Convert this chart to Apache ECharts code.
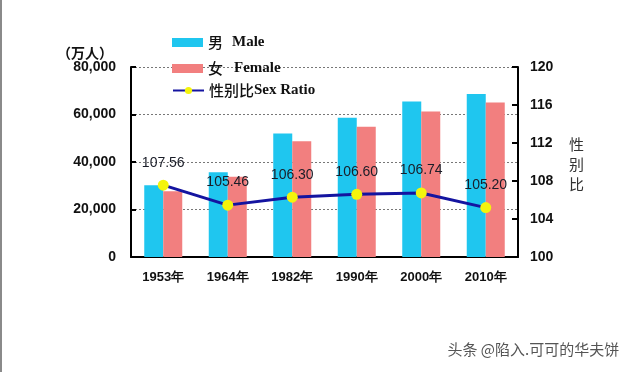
<!DOCTYPE html>
<html><head><meta charset="utf-8">
<script src="https://cdn.jsdelivr.net/npm/echarts@6/dist/echarts.min.js"></script>
<style>html,body{margin:0;padding:0;background:#fff;}#c{width:640px;height:372px;}</style>
</head><body><div id="c"></div>
<script>
var years = ['1953年', '1964年', '1982年', '1990年', '2000年', '2010年'];
var male = [30200, 35700, 52000, 58600, 65500, 68600];
var female = [27700, 33800, 48700, 54800, 61300, 65100];
var sexRatio = [107.56, 105.46, 106.30, 106.60, 106.74, 105.20];
var leftTicks = [0, 20000, 40000, 60000, 80000];
var rightTicks = [100, 104, 108, 112, 116, 120];
var enNames = {'男': 'Male', '女': 'Female', '性别比': 'Sex Ratio'};

var chart = echarts.init(document.getElementById('c'), null, {renderer: 'canvas'});
function legendCfg(name, top, iconGap, icon) {
  var l = {
    data: [name], left: 172, top: top, itemWidth: 31, itemHeight: 9, itemGap: 0,
    selectedMode: false, padding: 0,
    formatter: function (n) { return '{cn|' + n + '}{sp|}{en|' + enNames[n] + '}'; },
    textStyle: {
      rich: {
        cn: {fontFamily: 'Noto Sans CJK SC', fontSize: 15, fontWeight: 500, color: '#111', lineHeight: 18},
        sp: {width: iconGap},
        en: {fontFamily: 'Liberation Serif', fontSize: 15, fontWeight: 'bold', color: '#111', lineHeight: 18}
      }
    }
  };
  if (icon) l.icon = icon;
  return l;
}
chart.setOption({
  animation: false,
  backgroundColor: '#fff',
  grid: {left: 131, right: 122, top: 67, bottom: 115},
  legend: [legendCfg('男', 35, 9, 'rect'), legendCfg('女', 61, 11, 'rect'), legendCfg('性别比', 83, 0)],
  xAxis: {
    type: 'category', data: years,
    axisLine: {lineStyle: {color: '#000', width: 2}},
    axisTick: {show: false},
    axisLabel: {fontFamily: 'Arial, Liberation Sans', fontSize: 13, fontWeight: 'bold', color: '#111', margin: 14}
  },
  yAxis: [{
    type: 'value', min: leftTicks[0], max: leftTicks[leftTicks.length - 1], interval: 20000,
    name: '（万人）', nameLocation: 'end', nameGap: 7,
    nameTextStyle: {fontFamily: 'Noto Sans CJK SC', fontSize: 14, fontWeight: 'bold', color: '#111', align: 'right', padding: [0, 18, 0, 0]},
    axisLine: {show: true, lineStyle: {color: '#000', width: 2}},
    axisTick: {show: true, inside: true, length: 5, lineStyle: {width: 2, color: '#000'}},
    axisLabel: {fontFamily: 'Arial, Liberation Sans', fontSize: 14, fontWeight: 'bold', color: '#111', margin: 15,
      formatter: function (v) { return v.toLocaleString('en-US'); }},
    splitLine: {show: true, lineStyle: {type: [2, 2], color: '#777', width: 1}}
  }, {
    type: 'value', min: rightTicks[0], max: rightTicks[rightTicks.length - 1], interval: 4,
    position: 'right',
    axisLine: {show: true, lineStyle: {color: '#000', width: 2}},
    axisTick: {show: true, inside: true, length: 6, lineStyle: {width: 2, color: '#000'}},
    axisLabel: {fontFamily: 'Arial, Liberation Sans', fontSize: 14, fontWeight: 'bold', color: '#111', margin: 12},
    splitLine: {show: false}
  }],
  series: [{
    name: '男', type: 'bar', data: male, barWidth: 19, barGap: '0%',
    itemStyle: {color: '#1fc6ef'}
  }, {
    name: '女', type: 'bar', data: female, barWidth: 19,
    itemStyle: {color: '#f27f7f'}
  }, {
    name: '性别比', type: 'line', yAxisIndex: 1, data: sexRatio,
    symbol: 'circle', symbolSize: 11, z: 5,
    lineStyle: {color: '#1414a0', width: 3},
    itemStyle: {color: '#f4f40c'},
    label: {show: true, position: 'top', distance: 10, fontFamily: 'Arial, Liberation Sans', fontSize: 14, color: '#1a1d28',
      formatter: function (p) { return p.value.toFixed(2); }}
  }],
  graphic: [
    {type: 'rect', left: 0, top: 0, shape: {width: 2, height: 372}, style: {fill: '#8a8a8a'}},
    {type: 'text', left: 569, top: 134, style: {text: '性\n别\n比', fontFamily: 'Noto Sans CJK SC', fontSize: 15, lineHeight: 20, fill: '#333'}},
    {type: 'text', left: 447, top: 341, style: {text: '头条 @陷入.可可的华夫饼', fontFamily: 'Noto Sans CJK SC', fontSize: 15, fill: '#555', stroke: '#fff', lineWidth: 1}}
  ]
});
</script></body></html>
